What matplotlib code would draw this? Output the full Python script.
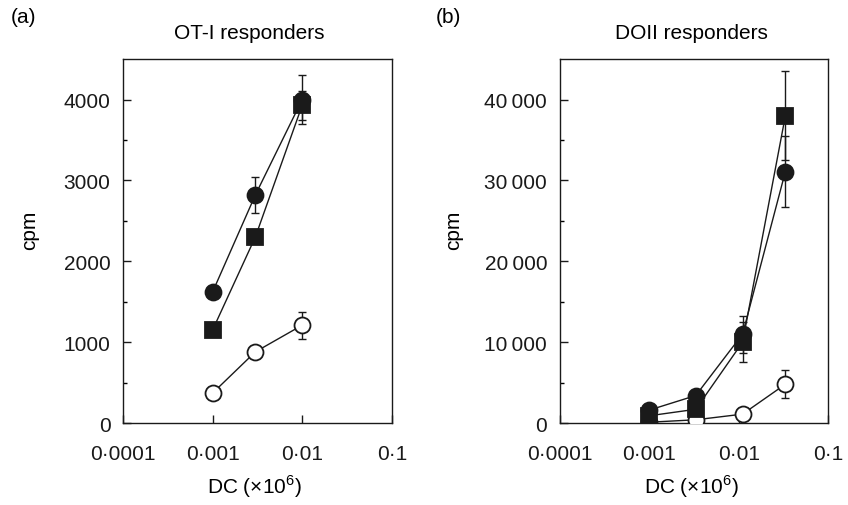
import numpy as np
import matplotlib.pyplot as plt
from matplotlib.ticker import FixedLocator, FixedFormatter

plt.rcParams['font.family'] = ['Liberation Sans', 'DejaVu Sans']
plt.rcParams['mathtext.fontset'] = 'custom'
plt.rcParams['mathtext.rm'] = 'Liberation Sans'

# (a) OT-I responders
dc_a = [0.001, 0.003, 0.01]
a_circle = [1620, 2820, 4000]
a_circle_err = [0, 225, 300]
a_square = [1150, 2300, 3930]
a_square_err = [0, 0, 180]
a_open = [370, 880, 1210]
a_open_err = [0, 0, 165]

# (b) DOII responders
dc_b = [0.001, 0.0033, 0.011, 0.033]
b_circle = [1600, 3400, 11000, 31100]
b_circle_err = [0, 0, 2300, 4400]
b_square = [900, 1700, 10000, 38000]
b_square_err = [0, 0, 2500, 5500]
b_open = [100, 400, 1100, 4800]
b_open_err = [0, 0, 0, 1700]

x_ticks = [0.0001, 0.001, 0.01, 0.1]
x_labels = ['0\u00b70001', '0\u00b7001', '0\u00b701', '0\u00b71']

FS = 15


def draw(ax, x, series, ymax, yticks, ylabels, ystep, cpm_x):
    for y, err, fc, mk, ms in series:
        ax.errorbar(x, y, yerr=err, fmt='none', ecolor='#1a1a1a',
                    elinewidth=1, capsize=3, capthick=1, zorder=2)
        ax.plot(x, y, color='#1a1a1a', lw=1, marker=mk, ms=ms,
                mfc=fc, mec='#1a1a1a', mew=1.3, zorder=3)
    ax.set_xscale('log')
    ax.set_xlim(1e-4, 1e-1)
    ax.set_ylim(0, ymax)
    ax.xaxis.set_major_locator(FixedLocator(x_ticks))
    ax.xaxis.set_major_formatter(FixedFormatter(x_labels))
    ax.xaxis.set_minor_locator(FixedLocator([]))
    ax.set_yticks(yticks)
    ax.set_yticklabels(ylabels)
    ax.set_yticks(np.arange(ystep / 2, ymax, ystep), minor=True)
    ax.tick_params(which='major', direction='in', length=6, width=1,
                   labelsize=FS, colors='#1a1a1a')
    ax.tick_params(which='minor', direction='in', length=3, width=1)
    ax.tick_params(axis='y', pad=9)
    ax.tick_params(axis='x', pad=15)
    for s in ax.spines.values():
        s.set_linewidth(1)
        s.set_color('#1a1a1a')
    ax.set_ylabel('cpm', fontsize=FS, va='center')
    ax.yaxis.set_label_coords(cpm_x, 0.533)
    ax.set_xlabel('DC (\u00d710$^{6}$)', fontsize=FS, va='center')
    ax.xaxis.set_label_coords(0.49, -0.172)


fig = plt.figure(figsize=(8.48, 5.06), dpi=100)
ax1 = fig.add_axes([0.145, 0.162, 0.317, 0.719])
ax2 = fig.add_axes([0.660, 0.162, 0.317, 0.719])

draw(ax1, dc_a,
     [(a_open, a_open_err, 'white', 'o', 11.5),
      (a_square, a_square_err, '#1a1a1a', 's', 11.5),
      (a_circle, a_circle_err, '#1a1a1a', 'o', 11.5)],
     4500, [0, 1000, 2000, 3000, 4000],
     ['0', '1000', '2000', '3000', '4000'], 1000, -0.346)
draw(ax2, dc_b,
     [(b_open, b_open_err, 'white', 'o', 11.5),
      (b_square, b_square_err, '#1a1a1a', 's', 11.5),
      (b_circle, b_circle_err, '#1a1a1a', 'o', 11.5)],
     45000, [0, 10000, 20000, 30000, 40000],
     ['0', '10\u2009000', '20\u2009000', '30\u2009000', '40\u2009000'], 10000,
     -0.394)

ax1.set_title('OT-I responders', fontsize=FS, pad=15, x=0.47)
ax2.set_title('DOII responders', fontsize=FS, pad=15, x=0.49)
fig.text(0.013, 0.955, '(a)', fontsize=FS)
fig.text(0.514, 0.955, '(b)', fontsize=FS)

plt.savefig('out.png', dpi=100)
